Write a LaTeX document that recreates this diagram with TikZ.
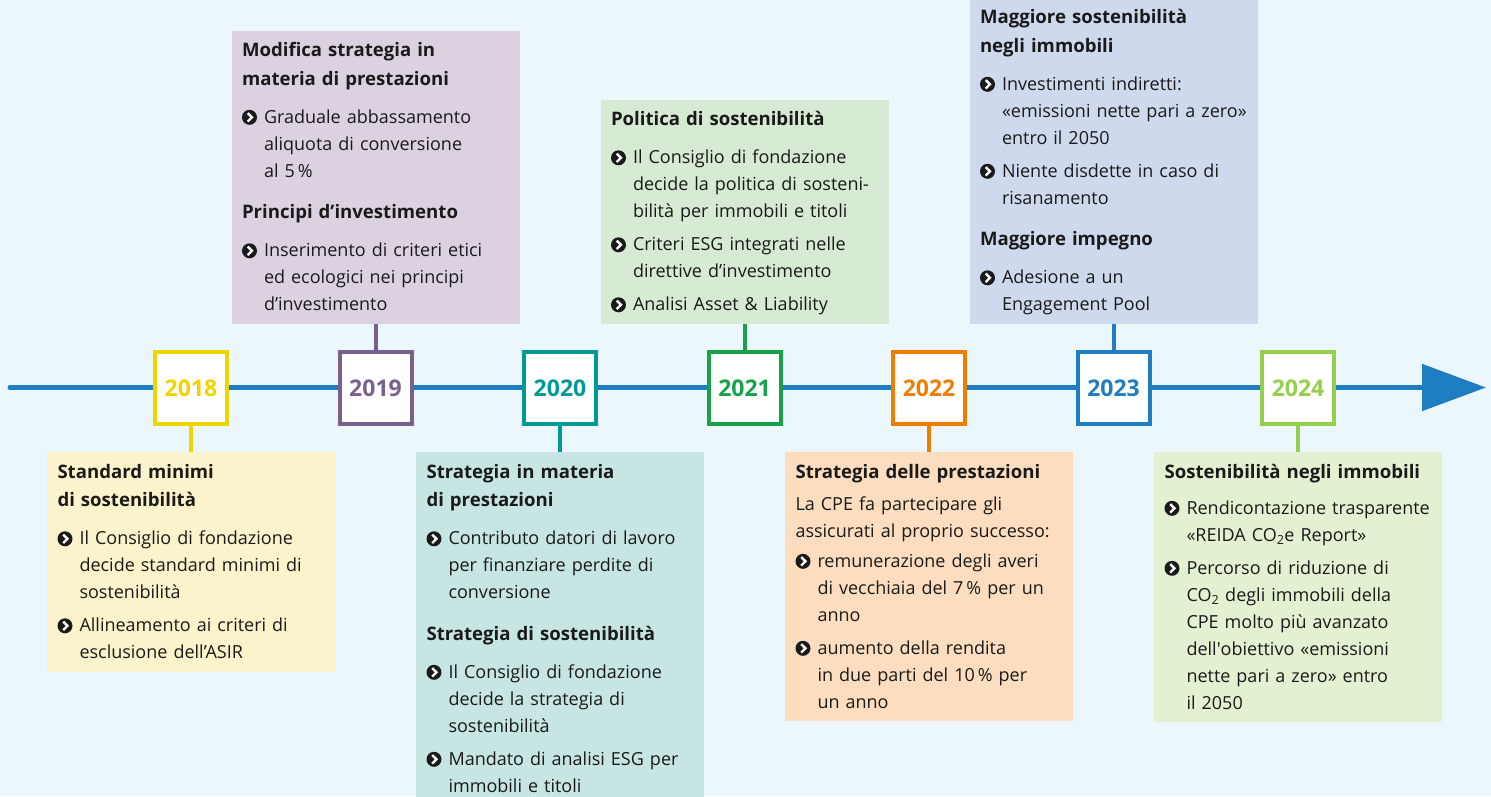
\documentclass[tikz,border=0pt]{standalone}
\usepackage{fontspec}
\setmainfont{Open Sans}
\usetikzlibrary{positioning,arrows.meta}

\definecolor{bgblue}{RGB}{235,247,253}
\definecolor{lineblue}{RGB}{31,126,194}
\definecolor{textgray}{RGB}{26,26,26}
\definecolor{c18}{RGB}{240,212,0}
\definecolor{f18}{RGB}{251,243,204}
\definecolor{c19}{RGB}{123,95,143}
\definecolor{f19}{RGB}{220,209,224}
\definecolor{c20}{RGB}{0,154,150}
\definecolor{f20}{RGB}{198,229,227}
\definecolor{c21}{RGB}{22,163,72}
\definecolor{f21}{RGB}{215,234,211}
\definecolor{c22}{RGB}{240,125,0}
\definecolor{f22}{RGB}{252,221,192}
\definecolor{c23}{RGB}{31,126,194}
\definecolor{f23}{RGB}{207,217,237}
\definecolor{c24}{RGB}{149,207,76}
\definecolor{f24}{RGB}{227,241,210}

\newcommand\yearfont{\fontsize{23}{23}\selectfont\bfseries}
\newcommand\bodyfont{\fontsize{18}{27}\selectfont}
\newcommand\titlefont{\fontsize{18.6}{28.5}\selectfont\bfseries}
\newcommand\chev{\tikz[x=1pt,y=1pt,baseline=-6pt]{\fill[textgray] (0,0) circle (7.5);
  \draw[white,line width=2.4pt] (-1.8,-4.2) -- (2.4,0) -- (-1.8,4.2);}}
\newcommand\boxhead[1]{{\titlefont\rule{0pt}{17.6pt}#1\par}\vspace{5pt}}
\newcommand\boxsub[1]{\vspace{13pt}{\titlefont #1\par}\vspace{5pt}}
\newcommand\boxitem[1]{\vspace{6pt}\noindent\makebox[22pt][l]{\chev}%
  \parbox[t]{250pt}{#1\rule[-4.5pt]{0pt}{4.5pt}}\par\prevdepth=4.5pt}

\begin{document}
\begin{tikzpicture}[x=1pt,y=-1pt,
  yearbox/.style={draw=#1, text=#1, fill=white, line width=4pt, minimum size=72pt, inner sep=0pt, font=\yearfont},
  infobox/.style={fill=#1, text width=267pt, inner xsep=10.5pt, inner ysep=8.5pt, align=left, font=\bodyfont, text=textgray},
  stem/.style={draw=#1, line width=4pt}]
\useasboundingbox[fill=bgblue] (0,0) rectangle (1491,796);

% timeline
\coordinate (tstart) at (10,387.5);
\coordinate (tend) at (1486,387.5);
\draw[lineblue, line width=5pt, line cap=round, -{Triangle[length=64pt,width=46pt]}] (tstart) -- (tend);

% years
\node[yearbox=c18] (y18) at (191,388) {2018};
\node[yearbox=c19] (y19) at (375.5,388) {2019};
\node[yearbox=c20] (y20) at (560,388) {2020};
\node[yearbox=c21] (y21) at (744.5,388) {2021};
\node[yearbox=c22] (y22) at (929,388) {2022};
\node[yearbox=c23] (y23) at (1113.5,388) {2023};
\node[yearbox=c24] (y24) at (1298,388) {2024};

% boxes below the line
\node[infobox=f18, below=26pt of y18] (b18) {%
\boxhead{Standard minimi\\di sostenibilità}
\boxitem{Il Consiglio di fondazione\\decide standard minimi di\\sostenibilità}
\boxitem{Allineamento ai criteri di\\esclusione dell’ASIR}};
\node[infobox=f20, below=26pt of y20] (b20) {%
\boxhead{Strategia in materia\\di prestazioni}
\boxitem{Contributo datori di lavoro\\per finanziare perdite di\\conversione}
\boxsub{Strategia di sostenibilità}
\boxitem{Il Consiglio di fondazione\\decide la strategia di\\sostenibilità}
\boxitem{Mandato di analisi ESG per\\immobili e titoli}};
\node[infobox=f22, below=26pt of y22] (b22) {%
\boxhead{Strategia delle prestazioni}
\noindent La CPE fa partecipare gli\\assicurati al proprio successo:\par\vspace{-3pt}
\boxitem{remunerazione degli averi\\di vecchiaia del 7\,\% per un\\anno}
\boxitem{aumento della rendita\\in due parti del 10\,\% per\\un anno}};
\node[infobox=f24, below=26pt of y24] (b24) {%
\boxhead{Sostenibilità negli immobili}
\vspace{-2pt}
\boxitem{Rendicontazione trasparente\\«REIDA CO\textsubscript{2}e Report»}
\boxitem{Percorso di riduzione di\\CO\textsubscript{2} degli immobili della\\CPE molto più avanzato\\dell\textquotesingle obiettivo «emissioni\\nette pari a zero» entro\\il 2050}};

% boxes above the line
\node[infobox=f19, above=26pt of y19] (b19) {%
\boxhead{Modifica strategia in\\materia di prestazioni}
\boxitem{Graduale abbassamento\\aliquota di conversione\\al 5\,\%}
\boxsub{Principi d’investimento}
\boxitem{Inserimento di criteri etici\\ed ecologici nei principi\\d’investimento}};
\node[infobox=f21, above=26pt of y21] (b21) {%
\boxhead{Politica di sostenibilità}
\boxitem{Il Consiglio di fondazione\\decide la politica di sosteni-\\bilità per immobili e titoli}
\boxitem{Criteri ESG integrati nelle\\direttive d’investimento}
\boxitem{Analisi Asset \& Liability}};
\node[infobox=f23, above=26pt of y23] (b23) {%
\boxhead{Maggiore sostenibilità\\negli immobili}
\boxitem{Investimenti indiretti:\\«emissioni nette pari a zero»\\entro il 2050}
\boxitem{Niente disdette in caso di\\risanamento}
\boxsub{Maggiore impegno}
\boxitem{Adesione a un\\Engagement Pool}};

% stems
\draw[stem=c18] (y18.south) -- (b18.north);
\draw[stem=c19] (y19.north) -- (b19.south);
\draw[stem=c20] (y20.south) -- (b20.north);
\draw[stem=c21] (y21.north) -- (b21.south);
\draw[stem=c22] (y22.south) -- (b22.north);
\draw[stem=c23] (y23.north) -- (b23.south);
\draw[stem=c24] (y24.south) -- (b24.north);
\end{tikzpicture}
\end{document}
